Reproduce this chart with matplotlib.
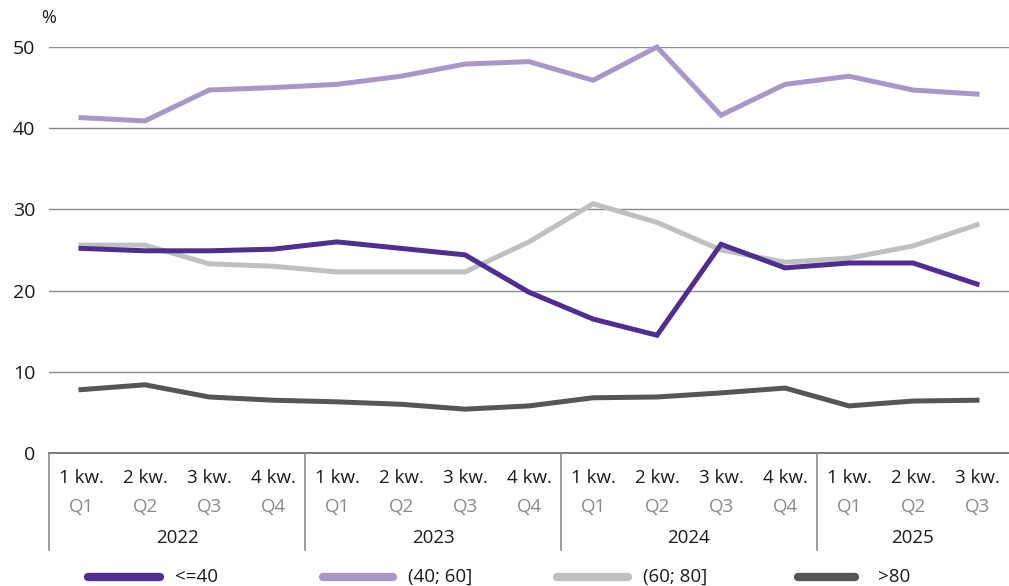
import matplotlib.pyplot as plt
from matplotlib.lines import Line2D

plt.rcParams['font.family'] = ['Open Sans', 'DejaVu Sans']

quarters = ["1 kw.", "2 kw.", "3 kw.", "4 kw."] * 3 + ["1 kw.", "2 kw.", "3 kw."]
quarters_en = ["Q1", "Q2", "Q3", "Q4"] * 3 + ["Q1", "Q2", "Q3"]
years = ["2022", "2023", "2024", "2025"]
year_counts = [4, 4, 4, 3]

s_le40 = [25.2, 24.9, 24.9, 25.1, 26.0, 25.2, 24.4, 19.8, 16.5, 14.5, 25.7, 22.8, 23.4, 23.4, 20.8]
s_40_60 = [41.3, 40.9, 44.7, 45.0, 45.4, 46.4, 47.9, 48.2, 45.9, 50.0, 41.6, 45.4, 46.4, 44.7, 44.2]
s_60_80 = [25.6, 25.6, 23.3, 23.0, 22.3, 22.3, 22.3, 26.0, 30.7, 28.4, 25.0, 23.5, 24.0, 25.5, 28.1]
s_gt80 = [7.8, 8.4, 6.9, 6.5, 6.3, 6.0, 5.4, 5.8, 6.8, 6.9, 7.4, 8.0, 5.8, 6.4, 6.5]

labels = ["<=40", "(40; 60]", "(60; 80]", ">80"]
colors = ["#4f2d91", "#a898c9", "#c0c0c2", "#565656"]
series = [s_le40, s_40_60, s_60_80, s_gt80]

W, H = 1009, 586
fig = plt.figure(figsize=(W / 100, H / 100), dpi=100)
ax = fig.add_axes([49 / W, 1 - 453 / H, 960 / W, (453 - 47) / H])

x = list(range(len(quarters)))
# light series underneath
for i in [1, 2, 3, 0]:
    ax.plot(x, series[i], color=colors[i], lw=3.6, solid_joinstyle='miter', clip_on=False, zorder=3)

ax.set_xlim(-0.5, len(x) - 0.5)
ax.set_ylim(0, 50)
ax.set_yticks([0, 10, 20, 30, 40, 50])
ax.set_yticklabels(["0", "10", "20", "30", "40", "50"], fontsize=14, color="#1a1a1a")
ax.tick_params(axis='y', length=0, pad=10)
for yy in [10, 20, 30, 40, 50]:
    ax.axhline(yy, color="#8a8a8a", lw=1.0, zorder=1)
ax.axhline(0, color="#7a7a7a", lw=1.4, zorder=1, clip_on=False)
for sp in ax.spines.values():
    sp.set_visible(False)
ax.set_xticks([])

fig.text(41 / W, 1 - 18 / H, "%", fontsize=13, color="#1a1a1a", va='center', ha='left')

# two-level category axis
trans = ax.get_xaxis_transform()
for i in x:
    ax.text(i, -25 / 406, quarters[i], transform=trans, ha='center', va='center',
            fontsize=13.5, color="#1a1a1a", clip_on=False)
    ax.text(i, -54 / 406, quarters_en[i], transform=trans, ha='center', va='center',
            fontsize=13.5, color="#8a8a8a", clip_on=False)
start = 0
bounds = [-0.5]
for yr, n in zip(years, year_counts):
    ax.text(start + (n - 1) / 2, -85 / 406, yr, transform=trans, ha='center', va='center',
            fontsize=13.5, color="#1a1a1a", clip_on=False)
    start += n
    bounds.append(start - 0.5)
for b in bounds[:-1]:
    ax.plot([b, b], [0, -97 / 406], transform=trans, color="#8a8a8a", lw=1.2, clip_on=False)

# legend
leg_pos = [(88, 160, 175), (323, 393, 408), (557, 628, 643), (798, 855, 878)]
ly = 1 - 577 / H
for (x0, x1, xt), lab, c in zip(leg_pos, labels, colors):
    fig.add_artist(Line2D([x0 / W, x1 / W], [ly, ly], color=c, lw=6, solid_capstyle='round',
                          transform=fig.transFigure))
    fig.text(xt / W, ly, lab, fontsize=13.5, color="#1a1a1a", va='center', ha='left')

fig.savefig("out.png", dpi=100)
